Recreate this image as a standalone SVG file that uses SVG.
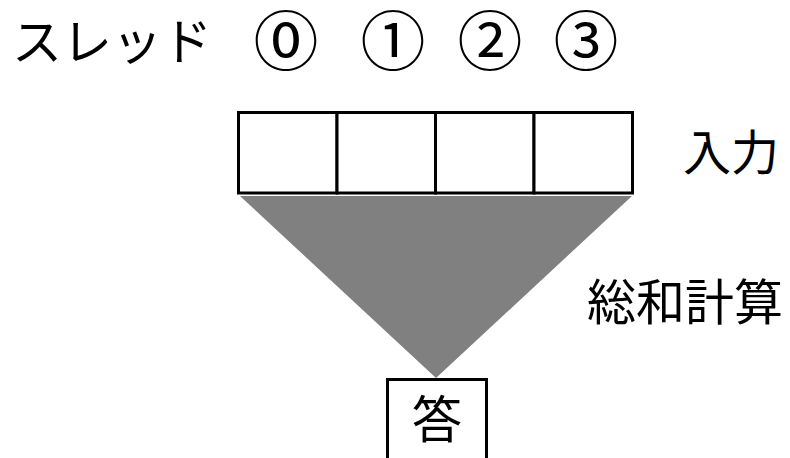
<svg xmlns="http://www.w3.org/2000/svg" width="790" height="458" viewBox="0 0 790 458">
<style>
.t{font-family:"Noto Sans CJK JP","Noto Sans CJK SC",sans-serif;fill:#000}
.c{font-family:"Noto Sans CJK JP","Noto Sans CJK SC",sans-serif;fill:#000;font-size:65px;text-anchor:middle}
.box{fill:#fff;stroke:#000;stroke-width:3}
</style>
<rect width="790" height="458" fill="#fff"/>
<g id="threads">
<text class="t" x="12" y="60" font-size="50">スレッド</text>
<text class="c" x="286" y="64.5">⓪</text>
<text class="c" x="393" y="64.5">①</text>
<text class="c" x="490" y="64.5">②</text>
<text class="c" x="586" y="64.5">③</text>
</g>
<g id="input">
<rect class="box" x="238.5" y="112.5" width="98.5" height="80.5"/>
<rect class="box" x="337" y="112.5" width="98.5" height="80.5"/>
<rect class="box" x="435.5" y="112.5" width="98.5" height="80.5"/>
<rect class="box" x="534" y="112.5" width="98.5" height="80.5"/>
<text class="t" x="683" y="170" font-size="48">入力</text>
</g>
<g id="connectors">
<polygon points="240,196 632,196 436,378" fill="#808080"/>
<text class="t" x="587" y="320" font-size="49">総和計算</text>
</g>
<g id="answer">
<rect class="box" x="387.5" y="379.5" width="99" height="100"/>
<text class="t" x="437" y="438" font-size="50" text-anchor="middle">答</text>
</g>
</svg>
